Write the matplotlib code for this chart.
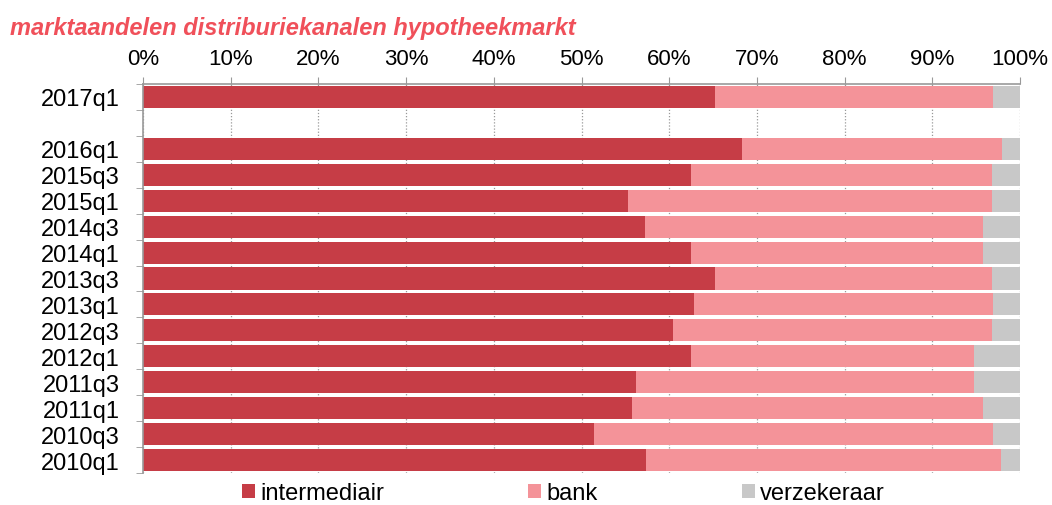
import numpy as np
import matplotlib.pyplot as plt
from matplotlib.ticker import FixedLocator, PercentFormatter

plt.rcParams['font.family'] = ['Liberation Sans', 'DejaVu Sans']

# periodes, van boven naar beneden (na 2017q1 volgt een lege rij)
periodes = ['2017q1', '2016q1', '2015q3', '2015q1', '2014q3', '2014q1', '2013q3',
            '2013q1', '2012q3', '2012q1', '2011q3', '2011q1', '2010q3', '2010q1']
intermediair = [65.2, 68.3, 62.5, 55.3, 57.2, 62.5, 65.2,
                62.8, 60.4, 62.5, 56.2, 55.8, 51.4, 57.4]
bank = [31.7, 29.6, 34.3, 41.5, 38.6, 33.3, 31.6,
        34.1, 36.4, 32.3, 38.6, 40.0, 45.5, 40.4]
verzekeraar = [100 - a - b for a, b in zip(intermediair, bank)]

kleuren = {'intermediair': '#C63D46', 'bank': '#F49399', 'verzekeraar': '#C8C8C8'}

# posities: rij 0 = 2017q1, rij 1 leeg, daarna de rest
pos = np.array([0] + list(range(2, len(periodes) + 1)))
n_rijen = len(periodes) + 1

fig = plt.figure(figsize=(10.52, 5.06), dpi=100)
ax = fig.add_axes([143 / 1052, 1 - 474 / 506, 877 / 1052, 389 / 506])

inter = np.array(intermediair)
bnk = np.array(bank)
verz = np.array(verzekeraar)
ax.barh(pos, inter, height=0.85, color=kleuren['intermediair'], label='intermediair', zorder=2)
ax.barh(pos, bnk, left=inter, height=0.85, color=kleuren['bank'], label='bank', zorder=2)
ax.barh(pos, verz, left=inter + bnk, height=0.85, color=kleuren['verzekeraar'], label='verzekeraar', zorder=2)

ax.set_xlim(0, 100)
ax.set_ylim(n_rijen - 0.5, -0.5)

# x-as bovenaan
ax.xaxis.tick_top()
ax.set_xticks(np.arange(0, 101, 10))
ax.xaxis.set_major_formatter(PercentFormatter(decimals=0))
ax.tick_params(axis='x', which='major', direction='out', length=5, color='#999999',
               labelsize=16, pad=6)
ax.grid(axis='x', color='#999999', linestyle=(0, (1, 1.5)), linewidth=0.9, zorder=1)

# y-as: labels in het midden, streepjes op de grenzen
ax.set_yticks(pos)
ax.set_yticklabels(periodes)
ax.yaxis.set_minor_locator(FixedLocator(np.arange(-0.5, n_rijen, 1)))
ax.tick_params(axis='y', which='major', length=0, labelsize=17, pad=17)
ax.tick_params(axis='y', which='minor', direction='out', length=5, color='#999999')

for s in ['right', 'bottom']:
    ax.spines[s].set_visible(False)
for s in ['left', 'top']:
    ax.spines[s].set_color('#999999')
    ax.spines[s].set_linewidth(1.2)

fig.text(10 / 1052, 1 - 35 / 506, 'marktaandelen distriburiekanalen hypotheekmarkt',
         color='#F0505A', fontsize=17, fontweight='bold', fontstyle='italic',
         ha='left', va='baseline')

fig.legend(loc='center left', bbox_to_anchor=(242 / 1052, 1 - 494 / 506), ncol=3,
           frameon=False, fontsize=17, handlelength=0.55, handleheight=0.55,
           handletextpad=0.22, columnspacing=6.1, borderpad=0, borderaxespad=0)

fig.savefig('out.png', dpi=100)
